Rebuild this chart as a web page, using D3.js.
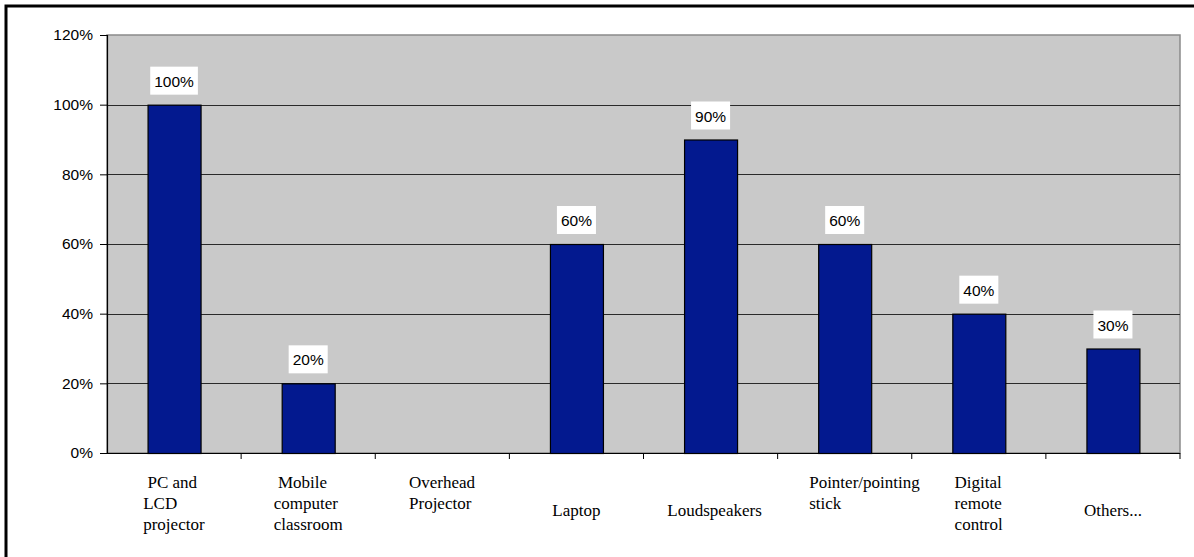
<!DOCTYPE html>
<html>
<head>
<meta charset="utf-8">
<script src="https://cdn.jsdelivr.net/npm/d3@7"></script>
<style>
  html, body { margin: 0; padding: 0; background: #fff; }
  svg { display: block; }
  text { white-space: pre; }
</style>
</head>
<body>
<svg id="chart" width="1194" height="557"></svg>
<script>
const categories = [
  "PC and LCD projector",
  "Mobile computer classroom",
  "Overhead Projector",
  "Laptop",
  "Loudspeakers",
  "Pointer/pointing stick",
  "Digital remote control",
  "Others..."
];
const categoryLines = [
  [" PC and", "LCD", "projector"],
  [" Mobile", "computer", "classroom"],
  ["Overhead", "Projector"],
  ["Laptop"],
  ["Loudspeakers"],
  ["Pointer/pointing", "stick"],
  ["Digital", "remote", "control"],
  ["Others..."]
];
const values = [1.0, 0.2, null, 0.6, 0.9, 0.6, 0.4, 0.3];
const yTicks = [0, 0.2, 0.4, 0.6, 0.8, 1.0, 1.2];

const svg = d3.select("#chart");
const margin = { left: 107, top: 35, right: 1180, bottom: 453 };

// outer border
svg.append("rect")
  .attr("x", 6).attr("y", 6)
  .attr("width", 1300).attr("height", 700)
  .attr("fill", "none").attr("stroke", "#000").attr("stroke-width", 3);

const x = d3.scaleBand().domain(categories).range([margin.left, margin.right]).paddingInner(0).paddingOuter(0);
const y = d3.scaleLinear().domain([0, 1.2]).range([margin.bottom, margin.top]);

// plot area
svg.append("rect")
  .attr("x", margin.left).attr("y", margin.top)
  .attr("width", margin.right - margin.left).attr("height", margin.bottom - margin.top)
  .attr("fill", "#c9c9c9").attr("stroke", "#8a8a8a").attr("stroke-width", 1.5);

// gridlines
svg.append("g").selectAll("line")
  .data(yTicks.filter(d => d > 0 && d < 1.2))
  .join("line")
  .attr("x1", margin.left).attr("x2", margin.right)
  .attr("y1", d => Math.round(y(d)) + 0.5).attr("y2", d => Math.round(y(d)) + 0.5)
  .attr("stroke", "#2a2a2a").attr("stroke-width", 1);

// bars
const bw = 53;
svg.append("g").selectAll("rect")
  .data(categories.map((c, i) => ({ c, v: values[i] })).filter(d => d.v != null && d.v > 0))
  .join("rect")
  .attr("x", d => x(d.c) + x.bandwidth() / 2 - bw / 2 + 0.5)
  .attr("y", d => y(d.v) + 0.5)
  .attr("width", bw)
  .attr("height", d => y(0) - y(d.v))
  .attr("fill", "#03198f")
  .attr("stroke", "#000").attr("stroke-width", 1.2);

// y axis
const yAxis = d3.axisLeft(y).tickValues(yTicks).tickFormat(d3.format(".0%")).tickSize(7).tickPadding(7);
const gy = svg.append("g").attr("transform", `translate(${margin.left},0)`).call(yAxis);
gy.select(".domain").attr("stroke", "#000").attr("stroke-width", 1.2);
gy.selectAll(".tick line").attr("stroke", "#000");
gy.selectAll(".tick text").attr("font-family", "Liberation Sans, Arial, sans-serif").attr("font-size", 15.5).attr("fill", "#000");

// x axis (ticks at category boundaries)
const gx = svg.append("g");
gx.append("line")
  .attr("x1", margin.left).attr("x2", margin.right)
  .attr("y1", margin.bottom + 0.5).attr("y2", margin.bottom + 0.5)
  .attr("stroke", "#000").attr("stroke-width", 1.2);
gx.selectAll("line.t")
  .data(categories.slice(1).concat(["__end"]))
  .join("line").attr("class", "t")
  .attr("x1", d => d === "__end" ? margin.right : x(d))
  .attr("x2", d => d === "__end" ? margin.right : x(d))
  .attr("y1", margin.bottom).attr("y2", margin.bottom + 6)
  .attr("stroke", "#000");

// category labels
const labG = svg.append("g")
  .attr("font-family", "Liberation Serif, 'Times New Roman', serif")
  .attr("font-size", 17).attr("fill", "#000");
categories.forEach((c, i) => {
  const lines = categoryLines[i];
  const t = labG.append("text");
  const startY = lines.length === 1 ? 516 : 488;
  lines.forEach((ln, j) => {
    t.append("tspan").attr("x", 0).attr("y", startY + j * 21).text(ln);
  });
  const w = t.node().getBBox().width;
  const cx = x(c) + x.bandwidth() / 2;
  const nudge = (i === 5) ? 20 : (i === 4 ? 4 : 0);
  t.selectAll("tspan").attr("x", cx - w / 2 + nudge);
});

// data labels
const dl = svg.append("g");
categories.forEach((c, i) => {
  const v = values[i];
  if (v == null || v <= 0) return;
  const cx = x(c) + x.bandwidth() / 2;
  const g = dl.append("g");
  const t = g.append("text")
    .attr("x", cx).attr("y", y(v) - 24 + 6)
    .attr("text-anchor", "middle")
    .attr("font-family", "Liberation Sans, Arial, sans-serif")
    .attr("font-size", 15.5).attr("fill", "#000")
    .text(d3.format(".0%")(v));
  const w = t.node().getComputedTextLength();
  g.insert("rect", "text")
    .attr("x", cx - w / 2 - 4).attr("y", y(v) - 38)
    .attr("width", w + 8).attr("height", 28)
    .attr("fill", "#fff");
});
</script>
</body>
</html>
